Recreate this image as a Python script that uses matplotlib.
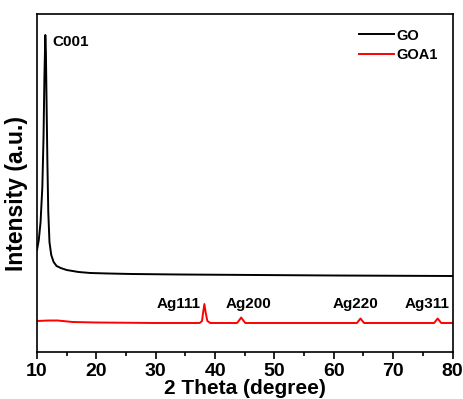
import matplotlib
matplotlib.use('Agg')
import matplotlib.pyplot as plt
from matplotlib.ticker import MultipleLocator

plt.rcParams['font.family'] = ['Liberation Sans', 'DejaVu Sans']
plt.rcParams['font.weight'] = 'bold'

# GO pattern (2 theta, intensity a.u.)
go_x = [10.0, 10.3, 10.6, 10.9, 11.1, 11.25, 11.4, 11.5, 11.6, 11.75, 11.9, 12.1,
        12.4, 12.8, 13.3, 14.0, 15.0, 17.0, 19.0, 22.0, 26.0, 34.0, 47.0, 60.0, 80.0]
go_y = [102, 112, 130, 165, 215, 275, 317, 300, 255, 190, 140, 110,
        97, 90, 86, 84, 82, 80, 79, 78.5, 78, 77.5, 77, 76.5, 76]

# GOA1 pattern
goa_x = [10.0, 12.0, 13.5, 16.0, 20.0, 30.0, 37.4, 37.8, 38.0, 38.2, 38.4, 38.7, 39.2,
         43.7, 44.1, 44.4, 44.7, 45.1, 63.9, 64.3, 64.5, 64.7, 65.1,
         76.9, 77.3, 77.5, 77.7, 78.1, 80.0]
goa_y = [31, 31.5, 31.5, 30, 29.5, 29, 29, 31, 40, 48, 40, 31, 29,
         29, 32, 34.5, 32, 29, 29, 32, 33.5, 32, 29,
         29, 32, 33.5, 32, 29, 29]

peak_labels = ['Ag111', 'Ag200', 'Ag220', 'Ag311']
label_x = [33.8, 45.6, 63.7, 75.7]

fig = plt.figure(figsize=(4.63, 3.99), dpi=100)
ax = fig.add_axes([37 / 463, 1 - 352 / 399, (452.5 - 37) / 463, (352 - 14) / 399])

ax.plot(go_x, go_y, color='black', lw=1.4, label='GO')
ax.plot(goa_x, goa_y, color='red', lw=1.4, label='GOA1')

ax.text(12.6, 310, 'C001', fontsize=11, fontweight='bold', va='center')
for lab, xx in zip(peak_labels, label_x):
    ax.text(xx, 44, lab, fontsize=11, fontweight='bold', ha='center', va='baseline')

ax.set_xlim(10, 80)
ax.set_ylim(0, 338)
ax.xaxis.set_major_locator(MultipleLocator(10))
ax.xaxis.set_minor_locator(MultipleLocator(5))
ax.tick_params(axis='x', which='major', direction='out', length=5, width=1.2,
               labelsize=14, pad=3)
ax.tick_params(axis='x', which='minor', direction='out', length=3, width=1.2)
ax.set_yticks([])
for lab in ax.get_xticklabels():
    lab.set_fontweight('bold')
for s in ax.spines.values():
    s.set_linewidth(1.2)

ax.set_xlabel('2 Theta (degree)', fontsize=15, fontweight='bold', labelpad=-1)
ax.set_ylabel('Intensity (a.u.)', fontsize=16.5, fontweight='bold')
ax.yaxis.set_label_coords(-0.022, 0.47)

ax.legend(loc='upper right', frameon=False, handlelength=2.4, handletextpad=0.2,
          borderaxespad=0.6, labelspacing=0.35, prop={'weight': 'bold', 'size': 10.5})

fig.savefig('out.png', dpi=100)
